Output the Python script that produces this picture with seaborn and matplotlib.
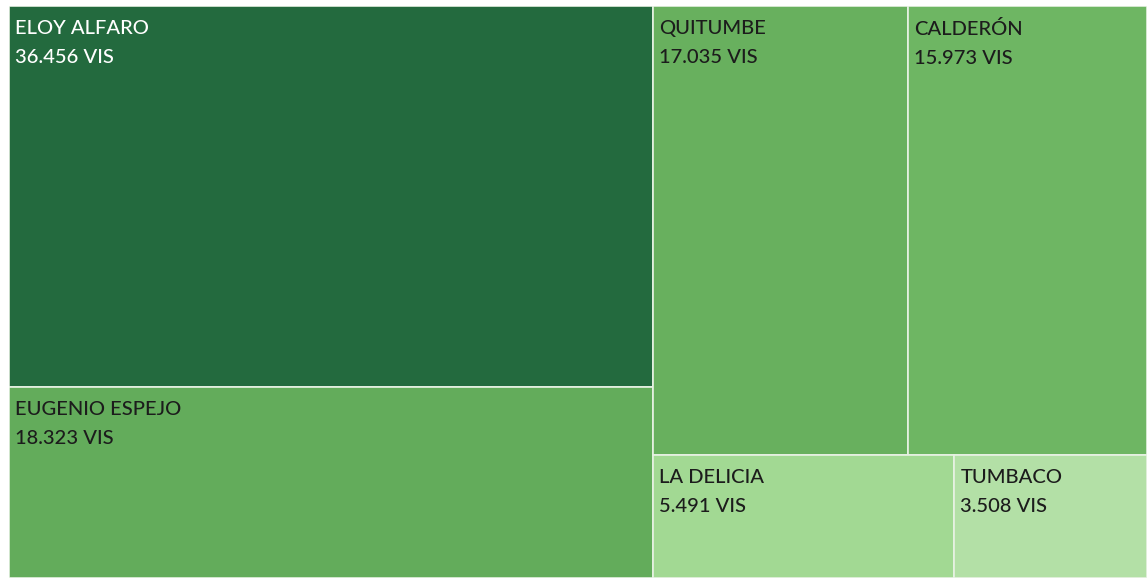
import matplotlib
matplotlib.use("Agg")
import matplotlib.pyplot as plt
from matplotlib.patches import Rectangle
import seaborn as sns

# datos del treemap
parroquias = ["ELOY ALFARO", "EUGENIO ESPEJO", "QUITUMBE", "CALDERÓN", "LA DELICIA", "TUMBACO"]
visitas = [36456, 18323, 17035, 15973, 5491, 3508]
etiquetas = ["36.456 VIS", "18.323 VIS", "17.035 VIS", "15.973 VIS", "5.491 VIS", "3.508 VIS"]
colores = ["#236a3e", "#63ac5b", "#68b05e", "#6eb663", "#a2d993", "#b3e0a6"]
color_texto = ["white", "#1c1c1c", "#1c1c1c", "#1c1c1c", "#1c1c1c", "#1c1c1c"]

# agrupacion del layout (columnas -> filas -> celdas)
columnas = [[[0], [1]], [[2, 3], [4, 5]]]

sns.set_theme(style="white")
plt.rcParams["font.family"] = ["Lato", "DejaVu Sans"]

fig = plt.figure(figsize=(11.47, 5.78), dpi=100)
ax = fig.add_axes([9 / 1147, 0, 1138 / 1147, 572 / 578])
total = sum(visitas)

rects = {}
x0 = 0.0
for col in columnas:
    col_total = sum(visitas[i] for fila in col for i in fila)
    w = col_total / total
    y0 = 0.0
    for fila in col:
        fila_total = sum(visitas[i] for i in fila)
        h = fila_total / col_total
        xx = x0
        for i in fila:
            cw = w * visitas[i] / fila_total
            rects[i] = (xx, y0, cw, h)
            xx += cw
        y0 += h
    x0 += w

for i, (x, y, w, h) in rects.items():
    ax.add_patch(Rectangle((x, y), w, h, facecolor=colores[i], edgecolor="#e8f2e4", linewidth=1.2))
    ax.annotate(parroquias[i] + "\n" + etiquetas[i], (x, y), xytext=(6, -14),
                textcoords="offset pixels", ha="left", va="top", fontsize=14.5,
                fontweight="medium", color=color_texto[i], linespacing=1.85)

ax.set_xlim(0, 1)
ax.set_ylim(1, 0)
ax.axis("off")
fig.savefig("out.png", dpi=100, facecolor="white")
